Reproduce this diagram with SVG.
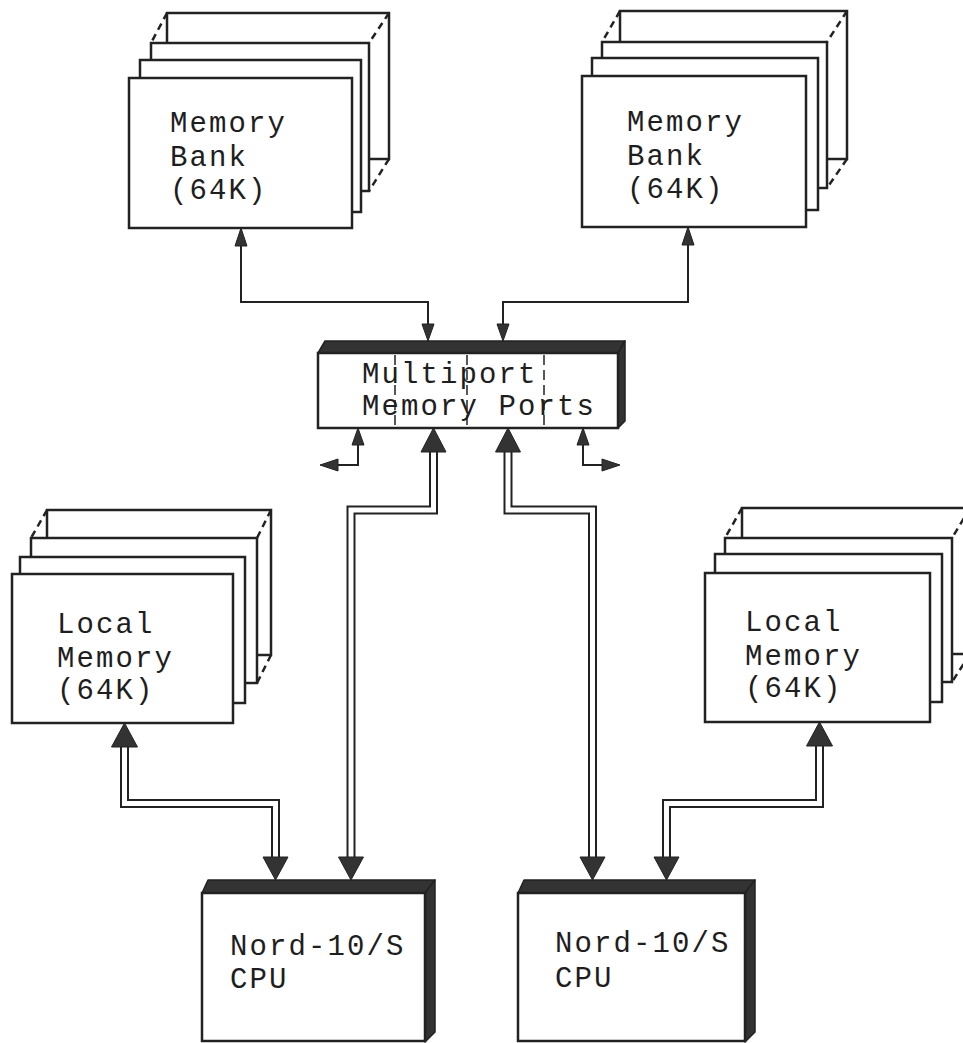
<svg xmlns="http://www.w3.org/2000/svg" width="963" height="1043" viewBox="0 0 963 1043">
<style>
.card{fill:#fff;stroke:#222;stroke-width:2.5}
.dash{fill:none;stroke:#222;stroke-width:2.5;stroke-dasharray:7 5}
.dvl{fill:none;stroke:#222;stroke-width:1.5;stroke-dasharray:10 5}
.lbl{font-family:"Liberation Mono","Courier New",monospace;font-size:29px;letter-spacing:2.1px;fill:#1e1e1e}
.wire{fill:none;stroke:#222;stroke-width:2}
.dblo{fill:none;stroke:#222;stroke-width:9;stroke-linejoin:miter}
.dbli{fill:none;stroke:#fff;stroke-width:5;stroke-linejoin:miter}
.head{fill:#333;stroke:#222;stroke-width:1}
.dark{fill:#333;stroke:#222;stroke-width:1.5;stroke-linejoin:round}
</style>
<rect width="963" height="1043" fill="#fff"/>

<g id="membank-left">
<rect class="card" x="167" y="13" width="222" height="146"/>
<line class="dash" x1="167" y1="13" x2="151" y2="43"/>
<line class="dash" x1="389" y1="13" x2="369" y2="43"/>
<line class="dash" x1="389" y1="159" x2="369" y2="191"/>
<rect class="card" x="151" y="43" width="218" height="148"/>
<rect class="card" x="140" y="60" width="221" height="152"/>
<rect class="card" x="129" y="78" width="223" height="150"/>
<text class="lbl" x="170" y="132">Memory</text>
<text class="lbl" x="170" y="166">Bank</text>
<text class="lbl" x="170" y="199">(64K)</text>
</g>

<g id="membank-right">
<rect class="card" x="620" y="11" width="227" height="148"/>
<line class="dash" x1="620" y1="11" x2="602" y2="42"/>
<line class="dash" x1="847" y1="11" x2="827" y2="42"/>
<line class="dash" x1="847" y1="159" x2="827" y2="188"/>
<rect class="card" x="602" y="42" width="225" height="146"/>
<rect class="card" x="592" y="58" width="226" height="152"/>
<rect class="card" x="582" y="76" width="224" height="151"/>
<text class="lbl" x="627" y="131">Memory</text>
<text class="lbl" x="627" y="165">Bank</text>
<text class="lbl" x="627" y="198">(64K)</text>
</g>

<g id="multiport">
<polygon class="dark" points="318,353 325,341 625,341 618,353"/>
<polygon class="dark" points="618,353 625,341 625,421 618,428"/>
<rect class="card" x="318" y="353" width="300" height="75"/>
<line class="dvl" x1="395" y1="355" x2="395" y2="427"/>
<line class="dvl" x1="467" y1="355" x2="467" y2="427"/>
<line class="dvl" x1="544" y1="355" x2="544" y2="427"/>
<text class="lbl" x="362" y="383">Multiport</text>
<text class="lbl" x="362" y="415">Memory Ports</text>
</g>

<g id="localmem-left">
<rect class="card" x="47" y="510" width="224" height="145"/>
<line class="dash" x1="47" y1="510" x2="31" y2="538"/>
<line class="dash" x1="271" y1="510" x2="257" y2="538"/>
<line class="dash" x1="271" y1="655" x2="257" y2="683"/>
<rect class="card" x="31" y="538" width="226" height="145"/>
<rect class="card" x="20" y="557" width="225" height="146"/>
<rect class="card" x="12" y="574" width="221" height="149"/>
<text class="lbl" x="57" y="633">Local</text>
<text class="lbl" x="57" y="667">Memory</text>
<text class="lbl" x="57" y="699">(64K)</text>
</g>

<g id="localmem-right">
<rect class="card" x="742" y="508" width="228" height="146"/>
<line class="dash" x1="742" y1="508" x2="725" y2="538"/>
<line class="dash" x1="970" y1="508" x2="952" y2="538"/>
<line class="dash" x1="970" y1="654" x2="952" y2="682"/>
<rect class="card" x="725" y="538" width="227" height="144"/>
<rect class="card" x="715" y="554" width="227" height="148"/>
<rect class="card" x="705" y="573" width="225" height="149"/>
<text class="lbl" x="745" y="631">Local</text>
<text class="lbl" x="745" y="665">Memory</text>
<text class="lbl" x="745" y="697">(64K)</text>
</g>

<g id="cpu-left">
<polygon class="dark" points="202,893 208,880 435,880 425,893"/>
<polygon class="dark" points="425,893 435,880 435,1032 425,1042"/>
<rect class="card" x="202" y="893" width="223" height="148"/>
<text class="lbl" x="230" y="955">Nord-10/S</text>
<text class="lbl" x="230" y="988">CPU</text>
</g>

<g id="cpu-right">
<polygon class="dark" points="518,893 524,880 755,880 745,893"/>
<polygon class="dark" points="745,893 755,880 755,1032 745,1042"/>
<rect class="card" x="518" y="893" width="227" height="148"/>
<text class="lbl" x="555" y="952">Nord-10/S</text>
<text class="lbl" x="555" y="987">CPU</text>
</g>

<g id="connectors">
<path class="wire" d="M241,245 V302 H428 V326"/>
<polygon class="head" points="241,228 235,246 247,246"/>
<polygon class="head" points="428,341 422,324 434,324"/>
<path class="wire" d="M688,244 V302 H503 V326"/>
<polygon class="head" points="688,227 682,245 694,245"/>
<polygon class="head" points="503,341 497,324 509,324"/>
<path class="wire" d="M358,443 V465 H337"/>
<polygon class="head" points="358,428 352,445 364,445"/>
<polygon class="head" points="320,465 338,459 338,471"/>
<path class="wire" d="M583,443 V465 H603"/>
<polygon class="head" points="583,428 577,445 589,445"/>
<polygon class="head" points="620,465 602,459 602,471"/>
<path class="dblo" d="M433.5,451 V510 H351 V859"/>
<path class="dbli" d="M433.5,451 V510 H351 V859"/>
<path class="dblo" d="M508,451 V510 H592.5 V859"/>
<path class="dbli" d="M508,451 V510 H592.5 V859"/>
<path class="dblo" d="M124.5,746 V803.5 H275.5 V859"/>
<path class="dbli" d="M124.5,746 V803.5 H275.5 V859"/>
<path class="dblo" d="M819.5,745 V803.5 H666.5 V859"/>
<path class="dbli" d="M819.5,745 V803.5 H666.5 V859"/>
<polygon class="head" points="433.5,428 421,452 446,452"/>
<polygon class="head" points="508,428 495.5,452 520.5,452"/>
<polygon class="head" points="124.5,723 111.5,747 137.5,747"/>
<polygon class="head" points="819.5,722 806.5,746 832.5,746"/>
<polygon class="head" points="275.5,880 263,857 288,857"/>
<polygon class="head" points="351,880 338.5,857 363.5,857"/>
<polygon class="head" points="592.5,880 580,857 605,857"/>
<polygon class="head" points="666.5,880 654,857 679,857"/>
</g>
</svg>
